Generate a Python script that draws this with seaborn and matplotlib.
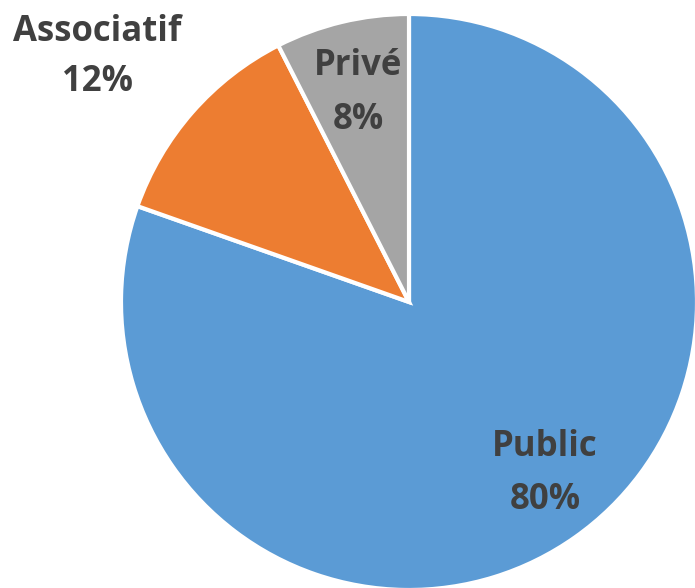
import matplotlib
matplotlib.use("Agg")
import matplotlib.pyplot as plt
import seaborn as sns

categories = ["Public", "Associatif", "Privé"]
shares = [80.4, 12.1, 7.5]
pct_labels = ["80%", "12%", "8%"]
colors = ["#5B9BD5", "#ED7D31", "#A5A5A5"]

sns.set_theme(style="white")
plt.rcParams['font.family'] = ['Open Sans', 'DejaVu Sans']

fig = plt.figure(figsize=(6.95, 5.88), dpi=100)
ax = fig.add_axes([0, 0, 1, 1])

ax.pie(shares, colors=colors, startangle=90, counterclock=False, radius=1,
       wedgeprops=dict(edgecolor="white", linewidth=3))

# pie centre sits at (409, 302) px, radius 288 px
cx, cy, r = 409, 302, 288
ax.set_xlim(-cx / r, (695 - cx) / r)
ax.set_ylim(-(588 - cy) / r, cy / r)
ax.set_aspect("equal")
ax.axis("off")

# label centres in pixels: x, name y, percent y
label_px = {
    "Public": (545, 447, 500),
    "Associatif": (97, 32, 82),
    "Privé": (358, 66, 120),
}
for cat, pct in zip(categories, pct_labels):
    x, y1, y2 = label_px[cat]
    ax.text((x - cx) / r, (cy - y1) / r, cat, ha="center", va="center",
            fontsize=25, fontweight="bold", color="#404040")
    ax.text((x - cx) / r, (cy - y2) / r, pct, ha="center", va="center",
            fontsize=25, fontweight="bold", color="#404040")

fig.savefig("out.png", dpi=100)
